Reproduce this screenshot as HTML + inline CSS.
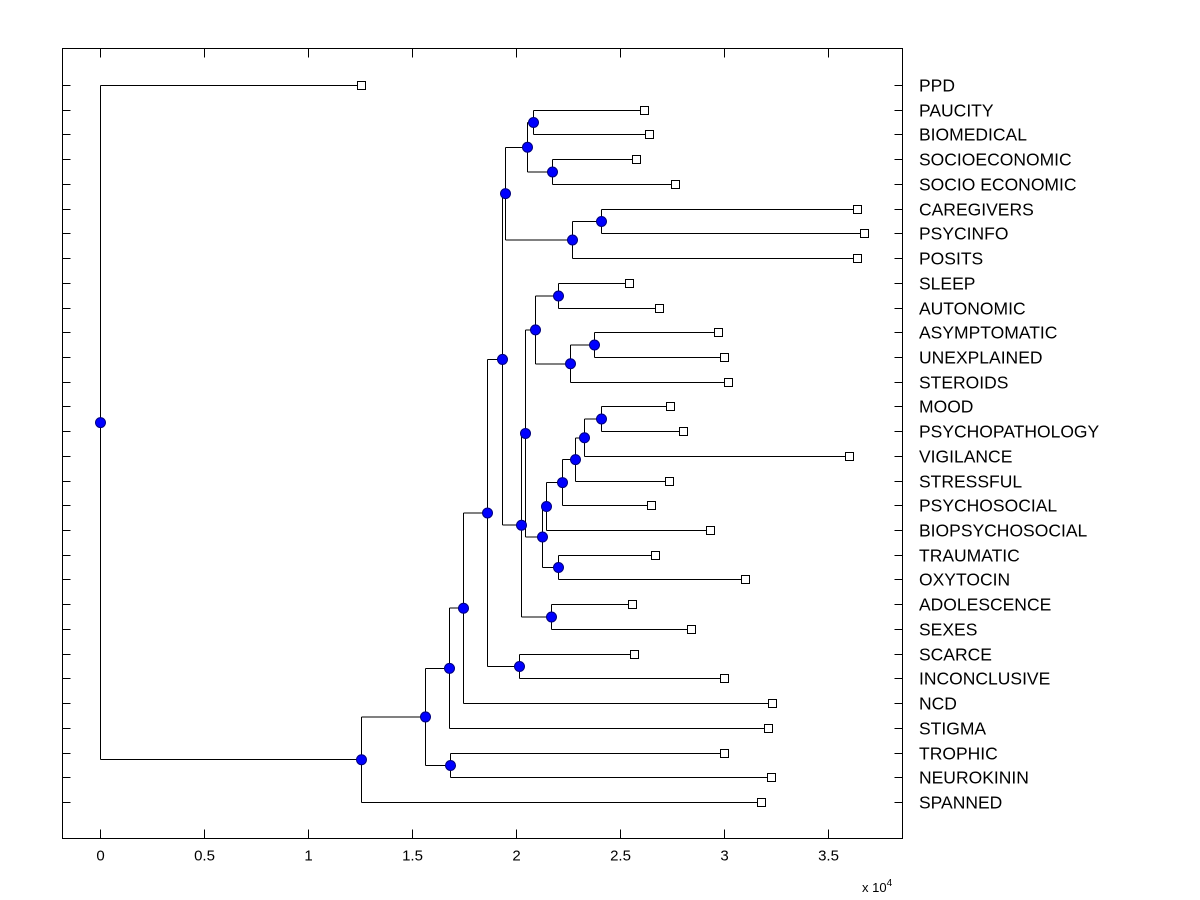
<!DOCTYPE html>
<html><head><meta charset="utf-8"><style>
body{margin:0;background:#fff}
svg{display:block;font-family:"Liberation Sans",Arial,sans-serif}
</style></head><body>
<svg id="chart" width="1200" height="900">
<rect width="1200" height="900" fill="#fff"/>
</svg>
<script>
const labels=["PPD","PAUCITY","BIOMEDICAL","SOCIOECONOMIC","SOCIO ECONOMIC","CAREGIVERS","PSYCINFO","POSITS","SLEEP","AUTONOMIC","ASYMPTOMATIC","UNEXPLAINED","STEROIDS","MOOD","PSYCHOPATHOLOGY","VIGILANCE","STRESSFUL","PSYCHOSOCIAL","BIOPSYCHOSOCIAL","TRAUMATIC","OXYTOCIN","ADOLESCENCE","SEXES","SCARCE","INCONCLUSIVE","NCD","STIGMA","TROPHIC","NEUROKININ","SPANNED"];
const leafValues=[1.255,2.615,2.639,2.577,2.764,3.639,3.673,3.639,2.543,2.688,2.971,3.0,3.019,2.740,2.803,3.601,2.736,2.649,2.933,2.668,3.101,2.558,2.841,2.567,3.0,3.231,3.212,3.0,3.226,3.178];
const nodeLeft=[1,3,30,5,33,32,8,10,37,36,13,40,41,42,43,19,44,39,21,47,35,23,50,52,53,27,54,56,0];
const nodeRight=[2,4,31,6,7,34,9,11,12,38,14,15,16,17,18,20,45,46,22,48,49,24,51,25,26,28,55,29,57];
const nodeValues=[2.082,2.173,2.053,2.409,2.269,1.947,2.202,2.375,2.260,2.091,2.409,2.327,2.284,2.221,2.144,2.202,2.125,2.043,2.168,2.024,1.933,2.014,1.861,1.745,1.678,1.683,1.563,1.255,0];
const xTicks=[0,0.5,1,1.5,2,2.5,3,3.5];
const xTickLabels=["0","0.5","1","1.5","2","2.5","3","3.5"];

const NS="http://www.w3.org/2000/svg";
const svg=document.getElementById('chart');
const L=62.5,R=902.5,T=48.5,B=838.5;
const xs=v=>Math.round(100+v*208)+0.5;
const ys=i=>Math.round(85+i*(802-85)/29)+0.5;
function mk(tag,attrs,parent){const e=document.createElementNS(NS,tag);for(const k in attrs)e.setAttribute(k,attrs[k]);(parent||svg).appendChild(e);return e;}

const ax=mk('g',{'shape-rendering':'crispEdges'});


const box=mk('rect',{x:L,y:T,width:R-L,height:B-T,fill:'none',stroke:'#000','stroke-width':1},ax);


xTicks.forEach((t,i)=>{
  const x=xs(t);
  mk('line',{x1:x,y1:B,x2:x,y2:B-9,stroke:'#000'},ax);
  mk('line',{x1:x,y1:T,x2:x,y2:T+9,stroke:'#000'},ax);
  const tx=mk('text',{x:x,y:B+22,'font-size':15,'text-anchor':'middle',fill:'#000'},ax);
  tx.textContent=xTickLabels[i];
  
  
});
const ex=mk('text',{x:862,y:892,'font-size':13,fill:'#000'},ax);
ex.innerHTML='x 10<tspan dy="-6" font-size="10">4</tspan>';


labels.forEach((lab,i)=>{
  const y=ys(i);
  mk('line',{x1:L,y1:y,x2:L+8,y2:y,stroke:'#000'},ax);
  mk('line',{x1:R,y1:y,x2:R-8,y2:y,stroke:'#000'},ax);
  const tx=mk('text',{x:919,y:y+6,'font-size':17.5,fill:'#000'},ax);
  tx.textContent=lab;
  
  
});

const N=labels.length;
const val=[...leafValues,...nodeValues];
const pos=labels.map((_,i)=>ys(i));
for(let k=0;k<nodeValues.length;k++){pos.push((pos[nodeLeft[k]]+pos[nodeRight[k]])/2);}
const lines=mk('g',{stroke:'#000','stroke-width':1,fill:'none','shape-rendering':'crispEdges'});


const marks=mk('g',{});


for(let k=0;k<nodeValues.length;k++){
  const px=xs(nodeValues[k]);
  const a=nodeLeft[k],b=nodeRight[k];
  const v=mk('line',{x1:px,y1:pos[a],x2:px,y2:pos[b]},lines);
  
  
  [a,b].forEach(c=>{
    const h=mk('line',{x1:px,y1:pos[c],x2:xs(val[c]),y2:pos[c]},lines);
    
    
  });
}
for(let i=0;i<N;i++){
  const s=mk('rect',{x:xs(leafValues[i])-4,y:pos[i]-4,width:8,height:8,fill:'#fff',stroke:'#000','shape-rendering':'crispEdges'},marks);
  
  
}
for(let k=0;k<nodeValues.length;k++){
  const c=mk('circle',{cx:xs(nodeValues[k]),cy:pos[N+k],r:5,fill:'#0000ff',stroke:'#00007f'},marks);
  
  
}
</script>
</body></html>
